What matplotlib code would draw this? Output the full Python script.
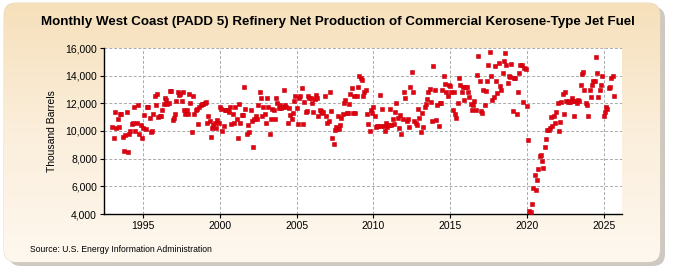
import numpy as np
import matplotlib
matplotlib.use('Agg')
import matplotlib.pyplot as plt
from matplotlib.patches import FancyBboxPatch
from matplotlib.colors import LinearSegmentedColormap

plt.rcParams['font.family'] = ['Liberation Sans', 'DejaVu Sans']

# monthly production, thousand barrels, starting Jan 1993
start_year = 1993
prod_1990s = [
    10300, 9500, 11350, 10200, 10900, 10300, 11250, 11200, 9550, 8550, 9700, 11400,
    8450, 9750, 10000, 10500, 10600, 11750, 10000, 10550, 11850, 9800, 10450, 9500,
    10200, 11150, 10150, 11700, 11700, 10950, 9950, 10000, 11250, 12500, 11850, 12700,
    11000, 11100, 11100, 11550, 11950, 12400, 12250, 11950, 12000, 12900, 12900, 10800,
    10950, 11250, 12200, 12800, 12600, 12700, 12200, 12850, 11500, 11200, 11550, 11200,
    12700, 12000, 9900, 12550, 11200, 11550, 11600, 10500, 11700, 11850, 11950, 11950,
    12050, 12100, 10550, 11050, 10700, 9600, 10200, 10450, 10550, 10250, 10800, 10550,
]
prod_2000s = [
    11750, 11600, 10000, 10350, 11500, 11500, 11500, 11400, 11750, 10500, 11200, 10550,
    11700, 10900, 9500, 11950, 10550, 11150, 11150, 13200, 11600, 9800, 10400, 9950,
    11550, 10700, 8850, 10850, 11100, 10900, 11900, 12850, 12350, 11100, 11700, 11200,
    10600, 12400, 11700, 9750, 10850, 11600, 11500, 10900, 12350, 12050, 11650, 11900,
    11650, 11750, 13000, 11900, 11700, 10600, 11650, 11150, 10850, 11300, 12200, 12500,
    11650, 10500, 12350, 12500, 13100, 10500, 12100, 11400, 11450, 12500, 12350, 12350,
    12000, 11400, 12300, 12600, 12350, 11050, 11550, 11450, 11300, 11400, 12550, 11100,
    10550, 10700, 12850, 11450, 9500, 9050, 10050, 10300, 11050, 10150, 10400, 10950,
    11250, 12000, 12250, 11300, 11300, 11950, 12650, 13100, 11300, 12550, 11300, 12500,
    13150, 13950, 13850, 13700, 12550, 12800, 12950, 11250, 10500, 10000, 11550, 11300,
]
prod_2010s = [
    11750, 11050, 10300, 10350, 10350, 12600, 10350, 11600, 10350, 10000, 10550, 10300,
    10400, 11600, 10400, 10850, 10500, 11400, 12000, 10950, 10200, 11150, 9750, 10850,
    12850, 12400, 10700, 10850, 10300, 13200, 14300, 12850, 10700, 10600, 10400, 11600,
    10950, 9900, 11300, 10300, 11750, 11950, 12300, 12800, 13050, 12100, 10700, 14700,
    12950, 10800, 11900, 10350, 12000, 12050, 13000, 14000, 13400, 12850, 12500, 13350,
    13250, 12850, 11550, 12850, 11250, 10950, 12000, 13850, 13300, 12800, 13150, 12250,
    13150, 13150, 12800, 12450, 11950, 11550, 11900, 12150, 11500, 14050, 15400, 13600,
    11450, 11300, 13000, 11900, 12900, 13600, 14750, 15700, 14000, 12250, 12450, 14700,
    13600, 12750, 14900, 13250, 13000, 14200, 15050, 15650, 14750, 13500, 14000, 13900,
    14850, 11450, 13850, 13800, 11200, 12800, 14200, 14800, 14750, 12100, 14550, 14450,
]
prod_2020s = [
    11800, 9350, 4200, 4150, 4750, 5900, 6800, 5700, 6450, 7250, 8200, 8300,
    7800, 7300, 8850, 9450, 10050, 10100, 10250, 11000, 10350, 11100, 10550, 11400,
    12000, 10000, 10650, 12100, 12650, 11250, 12850, 12150, 12100, 12200, 12100, 12400,
    12200, 11050, 12150, 12000, 12250, 12200, 13300, 14100, 14250, 13000, 12000, 11900,
    11100, 13000, 12450, 13350, 13650, 13650, 15350, 14200, 12450, 12950, 13300, 14000,
    11100, 11400, 11700, 11600, 13100, 13150, 13800, 14000, 12500,
]

title = 'Monthly West Coast (PADD 5) Refinery Net Production of Commercial Kerosene-Type Jet Fuel'
ylabel = 'Thousand Barrels'
source = 'Source: U.S. Energy Information Administration'
year_ticks = [1995, 2000, 2005, 2010, 2015, 2020, 2025]
value_ticks = [4000, 6000, 8000, 10000, 12000, 14000, 16000]

values = np.array(prod_1990s + prod_2000s + prod_2010s + prod_2020s, dtype=float)
years = start_year + np.arange(len(values)) / 12.0

W, H = 675, 275
fig = plt.figure(figsize=(W / 100, H / 100), dpi=100)
fig.patch.set_facecolor('white')

# background panel with shadow and gradient
bg = fig.add_axes([0, 0, 1, 1])
bg.set_xlim(0, W)
bg.set_ylim(H, 0)
bg.axis('off')
shadow = FancyBboxPatch((9, 7), W - 19, H - 16, boxstyle='round,pad=0,rounding_size=12',
                        fc='#bdb6ad', ec='none', alpha=0.75)
bg.add_patch(shadow)
panel = FancyBboxPatch((4, 3), W - 19, H - 16, boxstyle='round,pad=0,rounding_size=12',
                       fc='none', ec='#e0d2bc', lw=0.6)
bg.add_patch(panel)
cmap = LinearSegmentedColormap.from_list('bgc', ['#f6e0bb', '#fbeedb', '#fef8ef'])
grad = np.linspace(0, 1, 256).reshape(-1, 1)
im = bg.imshow(grad, cmap=cmap, extent=(4, W - 15, H - 13, 3), aspect='auto', zorder=1)
im.set_clip_path(panel)

ax = fig.add_axes([104 / W, 1 - 214 / H, (622 - 104) / W, (214 - 48) / H])
ax.set_facecolor('white')
ax.plot(years, values, 's', ms=3.4, color='#e3000f', mec='#c4000c', mew=0.4, zorder=3)

ax.set_xlim(1992.45, 2026.2)
ax.set_ylim(4000, 16000)
ax.set_xticks(year_ticks)
ax.set_yticks(value_ticks)
ax.set_yticklabels(['{:,}'.format(v) for v in value_ticks])
ax.grid(True, color='#aaaaaa', ls=(0, (3, 2)), lw=0.7)
ax.set_axisbelow(True)
for s in ['top', 'right']:
    ax.spines[s].set_visible(False)
for s in ['left', 'bottom']:
    ax.spines[s].set_linewidth(1.0)
ax.tick_params(labelsize=7.5, length=3, width=0.8, pad=2)
ax.set_ylabel(ylabel, fontsize=7.5, labelpad=6)

fig.text(0.5, 1 - 22 / H, title, ha='center', va='center', fontsize=9.6, fontweight='bold')
fig.text(30 / W, 1 - 250 / H, source, ha='left', va='center', fontsize=6.2)

fig.savefig('out.png', dpi=100)
